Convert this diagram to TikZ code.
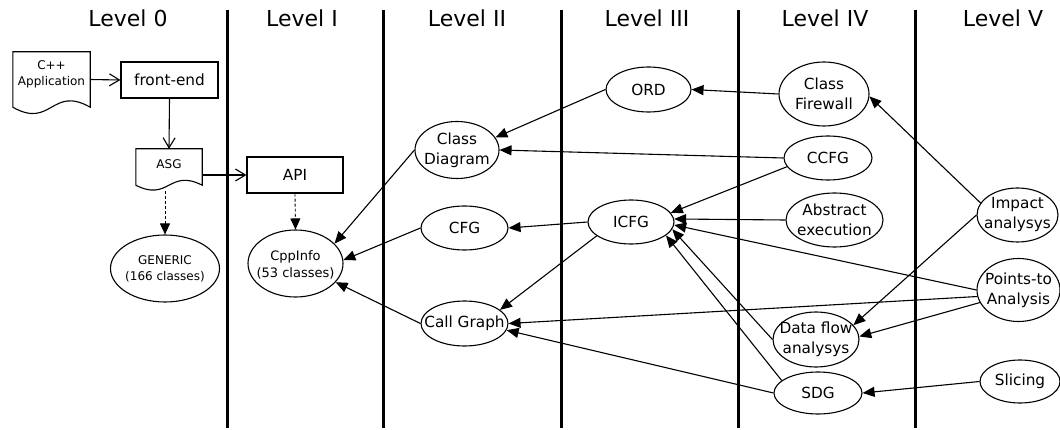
\documentclass[tikz,border=0pt]{standalone}
\usepackage{fontspec}
\setmainfont{DejaVu Sans}
\usetikzlibrary{shapes.geometric,arrows.meta,calc}
\tikzset{
  lvl/.style={font=\fontsize{22}{24}\selectfont, inner sep=0pt},
  sep/.style={line width=3pt},
  ell/.style 2 args={ellipse, draw, line width=1.1pt, minimum width=#1pt, minimum height=#2pt, inner sep=0pt},
  lbl/.style={align=center, inner sep=0pt, font=\fontsize{15.3}{20}\selectfont},
  lblm/.style={align=center, inner sep=0pt, font=\fontsize{13}{17}\selectfont},
  lbls/.style={align=center, inner sep=0pt, font=\fontsize{12}{16}\selectfont},
  boxn/.style 2 args={rectangle, draw, line width=1.1pt, minimum width=#1pt, minimum height=#2pt, inner sep=0pt, font=\fontsize{15.3}{18}\selectfont},
  docn/.style 2 args={rectangle, minimum width=#1pt, minimum height=#2pt, inner sep=0pt},
  docline/.style={line width=1.1pt},
  edge/.style={line width=1.1pt, -{Triangle[length=12pt,width=10pt]}},
  open/.style={line width=1.1pt, -{Straight Barb[length=10pt,width=12pt,line width=1.1pt]}},
  dot/.style={line width=0.9pt, dash pattern=on 3pt off 2pt, -{Triangle[length=11pt,width=10pt]}}
}
\begin{document}
\begin{tikzpicture}[x=1pt,y=-1pt]
\useasboundingbox (0,0) rectangle (1060,430);

% separators
\foreach \xx in {227,383,561,738,915} \draw[sep] (\xx,10) -- (\xx,428);

% level titles
\node[lvl] (l0) at (128,18) {Level 0};
\node[lvl] (l1) at (302,18) {Level I};
\node[lvl] (l2) at (467,18) {Level II};
\node[lvl] (l3) at (647,18) {Level III};
\node[lvl] (l4) at (825,18) {Level IV};
\node[lvl] (l5) at (1003,18) {Level V};

% level 0
\node[docn={77}{55}, label={[lbls, yshift=5.5pt]center:C++\\Application}] (cpp) at (51.5,79.5) {};
\draw[docline] (cpp.north west) -- (cpp.north east) -- (cpp.south east)
  .. controls ($(cpp.south)+(0,-22)$) and ($(cpp.south)+(0,22)$) .. (cpp.south west) -- cycle;
\node[boxn={97}{36}] (fe) at (169.5,80) {front-end};
\node[docn={66}{36}, label={[lbls, yshift=3pt]center:ASG}] (asg) at (169,167) {};
\draw[docline] (asg.north west) -- (asg.north east) -- (asg.south east)
  .. controls ($(asg.south)+(0,-17)$) and ($(asg.south)+(0,17)$) .. (asg.south west) -- cycle;
\coordinate (asgb) at (165,191);
\node[ell={109}{67}, label={[lbls]center:GENERIC\\(166 classes)}] (gen) at (165,268.5) {};

% level I
\node[boxn={96}{36}] (api) at (295,175) {API};
\node[ell={95}{67}, label={[lblm, yshift=-1pt]center:CppInfo\\(53 classes)}] (ci) at (295.5,263.5) {};

% level II
\node[ell={84}{57}, label={[lbl]center:Class\\Diagram}] (cd) at (457,150) {};
\node[ell={87}{44}, label={[lbl]center:CFG}] (cfg) at (464.5,228) {};
\node[ell={87}{45}, label={[lbl]center:Call Graph}] (cg) at (464.5,323.5) {};

% level III
\node[ell={85}{45}, label={[lbl]center:ORD}] (ord) at (648.5,89.5) {};
\node[ell={86}{44}, label={[lbl]center:ICFG}] (icfg) at (631,222) {};

% level IV
\node[ell={90}{64}, label={[lbl]center:Class\\Firewall}] (cf) at (824,94) {};
\node[ell={88}{44}, label={[lbl]center:CCFG}] (ccfg) at (828,158) {};
\node[ell={97}{54}, label={[lbl]center:Abstract\\execution}] (abs) at (834.5,220) {};
\node[ell={86}{55}, label={[lbl]center:Data flow\\analysys}] (df) at (816,339.5) {};
\node[ell={88}{42}, label={[lbl]center:SDG}] (sdg) at (818,393) {};

% level V
\node[ell={81}{54}, label={[lbl]center:Impact\\analysys}] (imp) at (1017.5,215) {};
\node[ell={83}{63}, label={[lbl]center:Points-to\\Analysis}] (pts) at (1018.5,290) {};
\node[ell={80}{43}, label={[lbl]center:Slicing}] (slc) at (1020,381.5) {};

% level 0 / I connectors
\draw[open] (cpp.east) -- (fe.west);
\draw[open] (fe.south) -- (asg.north);
\draw[open] (asg.east |- api.west) -- (api.west);
\draw[dot] (asgb) -- (gen.north);
\draw[dot] (api.south) -- (ci.north);

% dependency edges
\draw[edge] (ord.west) -- (cd.18);
\draw[edge] (cf.west) -- (ord.east);
\draw[edge] (ccfg.west) -- (cd.east);
\draw[edge] (ccfg.192) -- (icfg.13);
\draw[edge] (abs.west) -- (icfg.4);
\draw[edge] (pts.west) -- (icfg.-4);
\draw[edge] (df.west) -- (icfg.-10);
\draw[edge] (sdg.161) -- (icfg.-21);
\draw[edge] (icfg.west) -- (cfg.east);
\draw[edge] (icfg.202) -- (cg.21);
\draw[edge] (cd.west) -- (ci.27);
\draw[edge] (cfg.west) -- (ci.4);
\draw[edge] (cg.west) -- (ci.-25);
\draw[edge] (imp.162) -- (cf.-3);
\draw[edge] (imp.west) -- (df.21);
\draw[edge] (pts.189) -- (cg.east);
\draw[edge] (pts.198) -- (df.4);
\draw[edge] (sdg.west) -- (cg.-9);
\draw[edge] (slc.west) -- (sdg.east);
\end{tikzpicture}
\end{document}
